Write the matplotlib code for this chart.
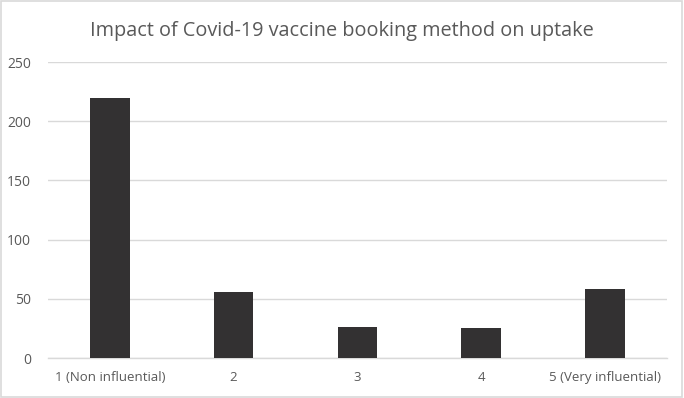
import matplotlib
matplotlib.use("Agg")
import matplotlib.pyplot as plt
from matplotlib.patches import Rectangle

categories = ["1 (Non influential)", "2", "3", "4", "5 (Very influential)"]
values = [220, 56, 26, 25, 58]
yticks = [0, 50, 100, 150, 200, 250]
title = "Impact of Covid-19 vaccine booking method on uptake"

plt.rcParams['font.family'] = ['Open Sans', 'DejaVu Sans']

fig = plt.figure(figsize=(6.84, 3.98), dpi=100)
fig.patch.set_facecolor('white')
fig.patches.append(Rectangle((0.002, 0.003), 0.995, 0.994, transform=fig.transFigure,
                             fill=False, edgecolor='#d9d9d9', linewidth=1.2))

ax = fig.add_axes([0.070, 0.1005, 0.905, 0.7435])
x = list(range(len(categories)))
ax.bar(x, values, width=0.32, color='#333132', zorder=3)
ax.set_xlim(-0.5, len(categories) - 0.5)
ax.set_ylim(0, 250)
ax.set_yticks(yticks)
ax.set_xticks(x)
ax.set_xticklabels(categories)
ax.yaxis.grid(True, color='#d9d9d9', linewidth=1, zorder=0)
for s in ['top', 'right', 'left']:
    ax.spines[s].set_visible(False)
ax.spines['bottom'].set_color('#d9d9d9')
ax.spines['bottom'].set_linewidth(1)
ax.tick_params(axis='both', length=0, colors='#595959', labelsize=9.5)
ax.tick_params(axis='x', pad=9)
ax.tick_params(axis='y', pad=12)
for lbl in ax.get_yticklabels():
    lbl.set_horizontalalignment('right')
    lbl.set_fontsize(10)

fig.text(0.5, 0.922, title, ha='center', va='center', fontsize=14.3, color='#595959')

fig.savefig("out.png", dpi=100)
